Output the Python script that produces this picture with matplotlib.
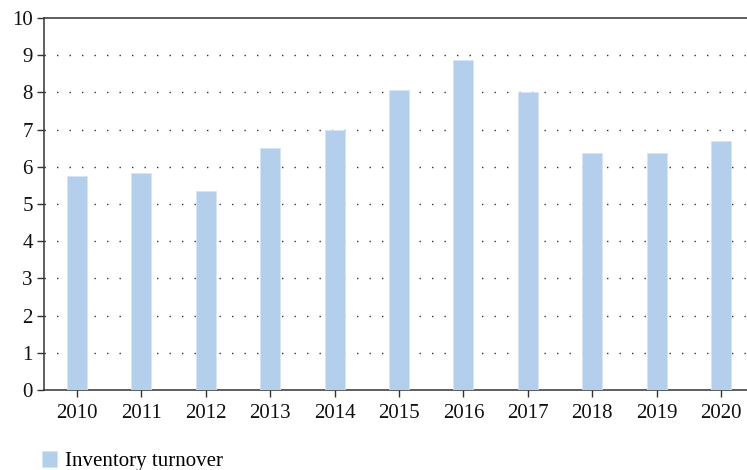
import matplotlib.pyplot as plt
import numpy as np

plt.rcParams['font.family'] = ['Liberation Serif', 'DejaVu Serif']

# 数据
years = ['2010', '2011', '2012', '2013', '2014', '2015',
         '2016', '2017', '2018', '2019', '2020']
turnover = [5.75, 5.83, 5.35, 6.50, 6.99, 8.06, 8.87, 8.01, 6.37, 6.37, 6.69]

fig = plt.figure(figsize=(7.47, 4.70), dpi=100)
ax = fig.add_axes([44 / 747, 1 - 390 / 470, 710 / 747, 372 / 470])

x = np.arange(len(years))
ax.bar(x, turnover, width=0.31, color='#b4cfec', edgecolor='#d6e5f5',
       linewidth=0.6, label='Inventory turnover', zorder=3)

ax.set_xlim(-0.51, len(years) - 0.49)
ax.set_ylim(0, 10)
ax.set_yticks(range(0, 11))
ax.set_xticks(x)
ax.set_xticklabels(years)

# 点状网格线
for v in range(1, 10):
    ax.axhline(v, color='#333333', linewidth=1.0, linestyle=(0, (1, 8)), zorder=1)

ax.spines['right'].set_visible(False)
for s in ['left', 'top', 'bottom']:
    ax.spines[s].set_color('#333333')
    ax.spines[s].set_linewidth(1.1)

ax.tick_params(axis='both', direction='out', length=5, width=1.0,
               color='#333333', labelsize=15, labelcolor='#111111')
ax.tick_params(axis='x', pad=5)
ax.tick_params(axis='y', pad=3)

ax.legend(loc='upper left', bbox_to_anchor=(-0.003, -0.165), frameon=False,
          fontsize=15, handlelength=0.75, handleheight=0.75, handletextpad=0.35,
          borderpad=0, borderaxespad=0)

plt.savefig('out.png', dpi=100)
